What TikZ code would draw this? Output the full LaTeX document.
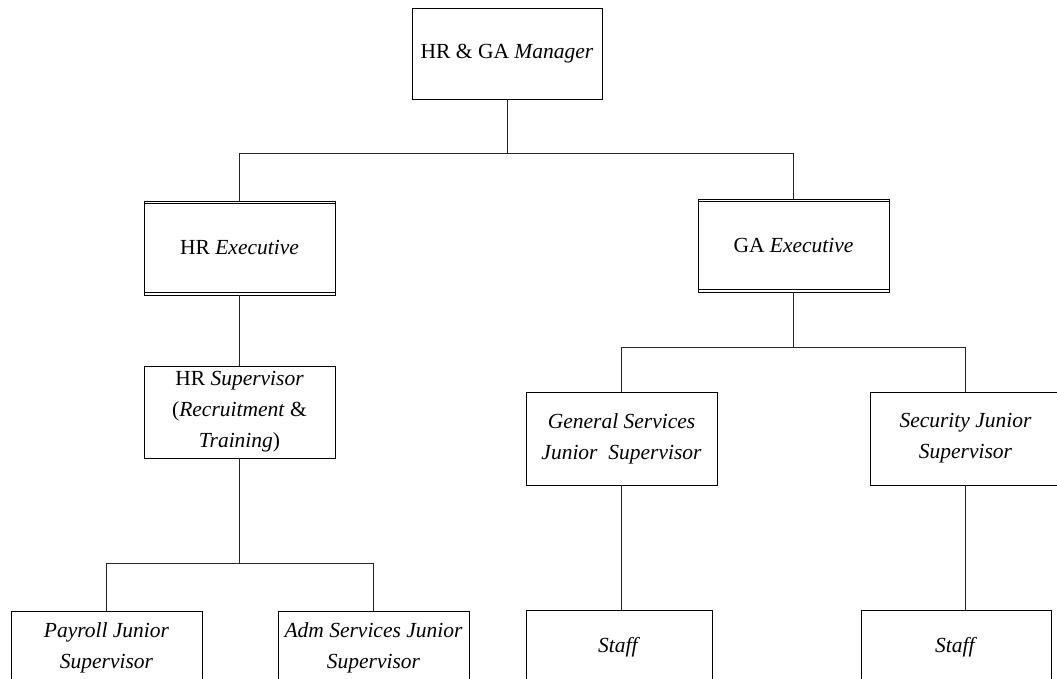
\documentclass[tikz,border=0pt]{standalone}
\usepackage{fontspec}
\setmainfont{Liberation Serif}
\begin{document}
\begin{tikzpicture}[x=1pt,y=1pt,
  box/.style={draw=black, line width=0.8pt, fill=white, align=center, inner sep=2pt,
    minimum width=191pt, font=\fontsize{21.5}{31}\selectfont},
  conn/.style={draw=black!85, line width=0.8pt}]
\useasboundingbox (0,0) rectangle (1057,-679);
\clip (0,0) rectangle (1057,-679);
% nodes
\node[box, minimum width=190pt, minimum height=91pt] (mgr) at (507,-53.5) {HR \& GA \textit{Manager}};
\node[box, minimum height=94pt] (hrx) at (239.5,-248) {HR \textit{Executive}};
\node[box, minimum height=93pt] (gax) at (793.5,-245.5) {GA \textit{Executive}};
\node[box, minimum height=92pt] (hrs) at (239.5,-412) {HR \textit{Supervisor}\\(\textit{Recruitment} \&\\\textit{Training})};
\node[box, minimum height=93pt] (gs) at (621.5,-438.5) {\textit{General Services}\\\textit{Junior\ \ Supervisor}};
\node[box, minimum height=93pt] (sec) at (965.5,-438.5) {\textit{Security Junior}\\\textit{Supervisor}};
\node[box, minimum height=74pt] (pay) at (106.5,-648) {\textit{Payroll Junior}\\\textit{Supervisor}};
\node[box, minimum height=74pt] (adm) at (373.5,-648) {\textit{Adm Services Junior}\\\textit{Supervisor}};
\node[box, minimum width=186pt, minimum height=74pt] (st1) at (619,-647) {\textit{Staff}};
\node[box, minimum width=190pt, minimum height=74pt] (st2) at (956,-647) {\textit{Staff}};
% double rules on executive boxes
\foreach \n in {hrx,gax}{
  \draw[line width=0.8pt] ([yshift=-3pt]\n.north west) -- ([yshift=-3pt]\n.north east);
  \draw[line width=0.8pt] ([yshift=3pt]\n.south west) -- ([yshift=3pt]\n.south east);
}
% bus coordinates
\coordinate (b1) at (0,-153);
\coordinate (b2) at (0,-347);
\coordinate (b3) at (0,-563);
% connectors
\draw[conn] (mgr.south) -- (mgr.south |- b1);
\draw[conn] (hrx.north) |- (gax.north |- b1) -- (gax.north);
\draw[conn] (hrx.south) -- (hrs.north);
\draw[conn] (hrs.south) -- (hrs.south |- b3);
\draw[conn] (pay.north) |- (adm.north |- b3) -- (adm.north);
\draw[conn] (gax.south) -- (gax.south |- b2);
\draw[conn] (gs.north) |- (sec.north |- b2) -- (sec.north);
\draw[conn] (gs.south) -- (gs.south |- st1.north);
\draw[conn] (sec.south) -- (sec.south |- st2.north);
\end{tikzpicture}
\end{document}
